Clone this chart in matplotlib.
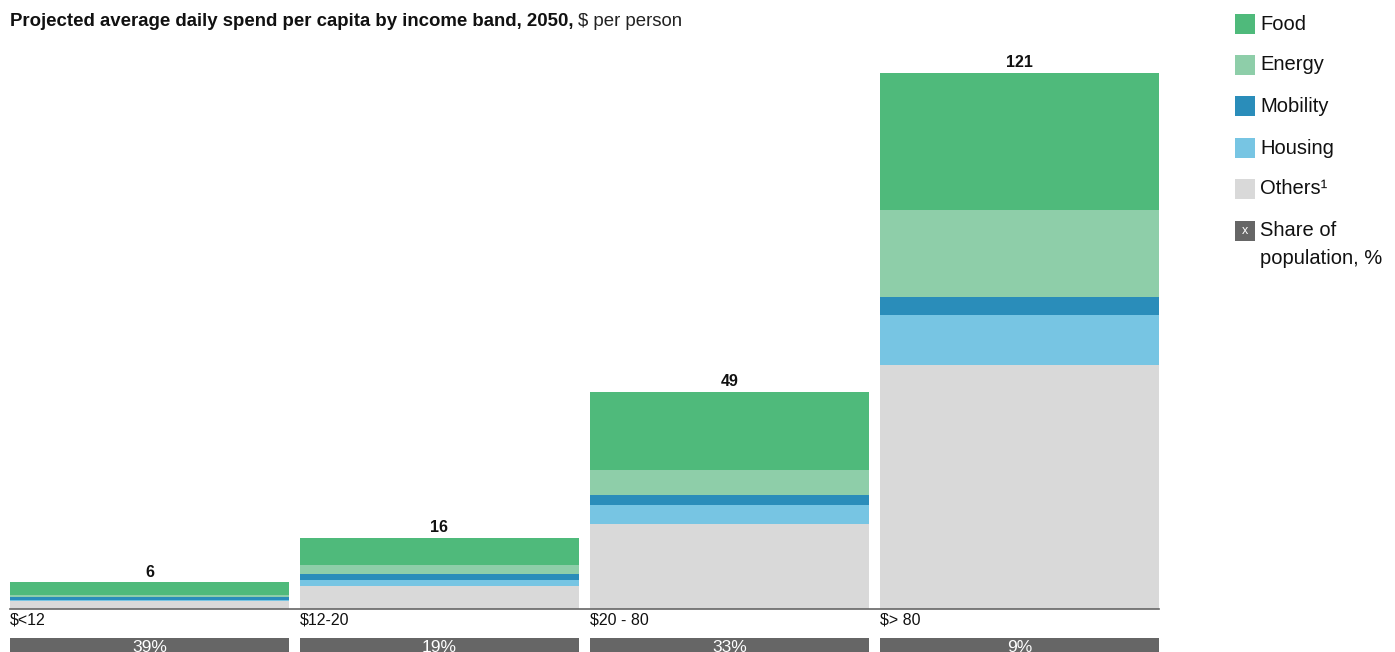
import matplotlib.pyplot as plt
from matplotlib.patches import Rectangle
import matplotlib.transforms as mtransforms
import numpy as np

plt.rcParams['font.family'] = ['Liberation Sans', 'DejaVu Sans']

# income bands and spend per category ($ per person per day)
bands = ["$<12", "$12-20", "$20 - 80", "$> 80"]
totals = [6, 16, 49, 121]
population_share = ["39%", "19%", "33%", "9%"]

others = [1.7, 5.2, 19.3, 55.0]
housing = [0.4, 1.3, 4.2, 11.3]
mobility = [0.6, 1.3, 2.3, 4.1]
energy = [0.5, 2.1, 5.6, 19.6]
food = [2.8, 6.1, 17.6, 31.0]

categories = ["Food", "Energy", "Mobility", "Housing", "Others\u00b9"]
colors = {"Food": "#4fba7b", "Energy": "#8ecea9", "Mobility": "#2a8dba",
          "Housing": "#77c5e3", "Others\u00b9": "#d9d9d9"}
share_color = "#666666"

W, H = 1395, 652
fig = plt.figure(figsize=(W / 100, H / 100), dpi=100)

# axes spans the bar area: left edge of first bar to right edge of last bar
ax = fig.add_axes([10 / W, (H - 609) / H, (1159 - 10) / W, (609 - 73) / H])
ax.set_axis_off()

x = np.arange(len(bands))
width = 279 / 290
stack = [("Others\u00b9", others), ("Housing", housing), ("Mobility", mobility),
         ("Energy", energy), ("Food", food)]
bottom = np.zeros(len(bands))
for name, vals in stack:
    ax.bar(x, vals, width, bottom=bottom, color=colors[name], linewidth=0)
    bottom += np.array(vals)

ax.set_xlim(-width / 2, 3 + width / 2)
ax.set_ylim(0, max(totals))

# baseline
ax.axhline(0, color="#666666", lw=1.2, clip_on=False)

for i, t in enumerate(totals):
    ax.annotate(str(t), (x[i], bottom[i]), xytext=(0, 2), textcoords="offset points",
                ha="center", va="bottom", fontsize=11.5, fontweight="bold", color="#111111")

# band labels and population share boxes below the axis
trans = mtransforms.blended_transform_factory(ax.transData, fig.transFigure)
for i, b in enumerate(bands):
    ax.text(x[i] - width / 2, (H - 620) / H, b, transform=trans, ha="left",
            va="center", fontsize=11.5, color="#111111")
    ax.add_patch(Rectangle((x[i] - width / 2, (H - 660) / H), width, 22 / H,
                           transform=trans, color=share_color, clip_on=False, lw=0))
    ax.text(x[i], (H - 647) / H, population_share[i], transform=trans, ha="center",
            va="center", fontsize=12.5, color="white")

# title
t1 = fig.text(10 / W, (H - 22) / H, "Projected average daily spend per capita by income band, 2050,",
              fontsize=13.4, fontweight="bold", ha="left", va="center", color="#111111")
fig.canvas.draw()
bb = t1.get_window_extent()
fig.text((bb.x1 + 5) / W, (H - 22) / H, "$ per person", fontsize=13.4,
         ha="left", va="center", color="#222222")

# legend
leg_y = [24, 65, 106, 148, 189]
for name, yc in zip(categories, leg_y):
    fig.patches.append(Rectangle((1235 / W, (H - yc - 10) / H), 20 / W, 20 / H,
                                 transform=fig.transFigure, color=colors[name], lw=0))
    fig.text(1260 / W, (H - yc) / H, name, fontsize=14.5, ha="left", va="center", color="#111111")

fig.patches.append(Rectangle((1235 / W, (H - 231 - 10) / H), 20 / W, 20 / H,
                             transform=fig.transFigure, color=share_color, lw=0))
fig.text(1245 / W, (H - 231) / H, "x", fontsize=9, ha="center", va="center", color="white")
fig.text(1260 / W, (H - 231) / H, "Share of", fontsize=14.5, ha="left", va="center", color="#111111")
fig.text(1260 / W, (H - 258) / H, "population, %", fontsize=14.5, ha="left", va="center", color="#111111")

fig.savefig("out.png", dpi=100)
